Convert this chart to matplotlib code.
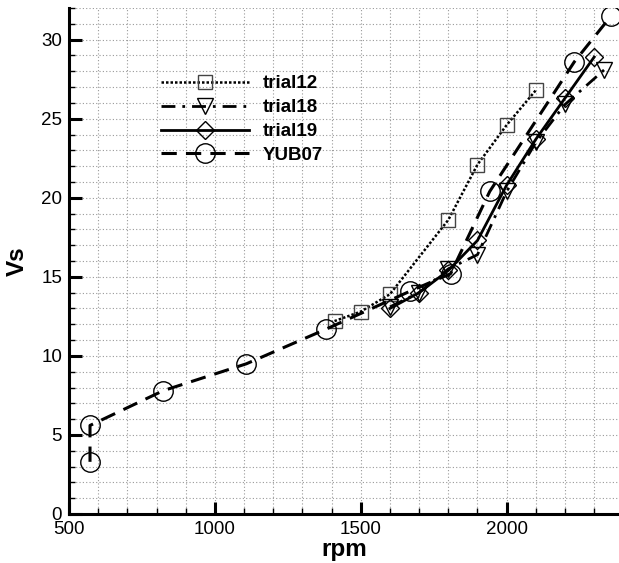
import numpy as np
import matplotlib
matplotlib.use('Agg')
import matplotlib.pyplot as plt
from matplotlib.ticker import MultipleLocator

plt.rcParams['font.family'] = ['Liberation Sans', 'DejaVu Sans']

# data
rpm_12 = [1410, 1500, 1600, 1800, 1900, 2000, 2100]
vs_12 = [12.2, 12.8, 13.9, 18.6, 22.1, 24.6, 26.8]

rpm_18 = [1600, 1700, 1800, 1900, 2000, 2100, 2200, 2335]
vs_18 = [13.1, 14.0, 15.5, 16.4, 20.4, 23.5, 25.9, 28.1]

rpm_19 = [1600, 1700, 1800, 1900, 2000, 2100, 2200, 2300]
vs_19 = [13.0, 14.0, 15.4, 17.3, 20.8, 23.7, 26.3, 28.9]

rpm_yub = [572, 572, 823, 1108, 1382, 1670, 1808, 1942, 2232, 2358]
vs_yub = [3.3, 5.6, 7.8, 9.5, 11.7, 14.1, 15.2, 20.4, 28.6, 31.5]

fig = plt.figure(figsize=(6.19, 5.63), dpi=100)
ax = fig.add_axes([69 / 619, 49 / 563, 550 / 619, 506 / 563])

mk = dict(markerfacecolor='none', markeredgewidth=1.0)
ax.plot(rpm_12, vs_12, color='black', lw=1.8, linestyle=(0, (1, 0.8)),
        marker='s', markersize=10, markeredgecolor='#444444', label='trial12', **mk)
ax.plot(rpm_18, vs_18, color='black', lw=2.0, linestyle=(0, (5, 2.5, 1, 2.5)),
        marker='v', markersize=11, markeredgecolor='black', label='trial18', **mk)
ax.plot(rpm_19, vs_19, color='black', lw=2.0, linestyle='-',
        marker='D', markersize=9, markeredgecolor='black', label='trial19', **mk)
ax.plot(rpm_yub, vs_yub, color='black', lw=2.2, linestyle=(0, (5, 3)),
        marker='o', markersize=14, markeredgecolor='black', label='YUB07', **mk)

ax.set_xlim(500, 2385)
ax.set_ylim(0, 32)
ax.xaxis.set_major_locator(MultipleLocator(500))
ax.xaxis.set_minor_locator(MultipleLocator(100))
ax.yaxis.set_major_locator(MultipleLocator(5))
ax.yaxis.set_minor_locator(MultipleLocator(1))

ax.grid(which='both', color='#999999', linestyle=(0, (1, 2)), linewidth=0.8)
ax.set_axisbelow(True)

ax.spines['top'].set_visible(False)
ax.spines['right'].set_visible(False)
ax.spines['left'].set_linewidth(2.2)
ax.spines['bottom'].set_linewidth(2.2)

ax.tick_params(which='major', direction='in', length=9, width=2.2, labelsize=13.5)
ax.tick_params(axis='y', which='major', pad=5)
ax.tick_params(axis='x', which='major', pad=5)
ax.tick_params(which='minor', direction='in', length=4, width=1.0)

ax.set_xlabel('rpm', fontsize=17.5, fontweight='bold', labelpad=0)
ax.set_ylabel('Vs', fontsize=17.5, fontweight='bold', labelpad=9)

ax.legend(loc='upper left', bbox_to_anchor=(0.153, 0.882), frameon=False,
          handlelength=4.7, handletextpad=0.75, labelspacing=0.36, borderaxespad=0,
          prop={'weight': 'bold', 'size': 13.5})

fig.savefig('out.png', dpi=100)
